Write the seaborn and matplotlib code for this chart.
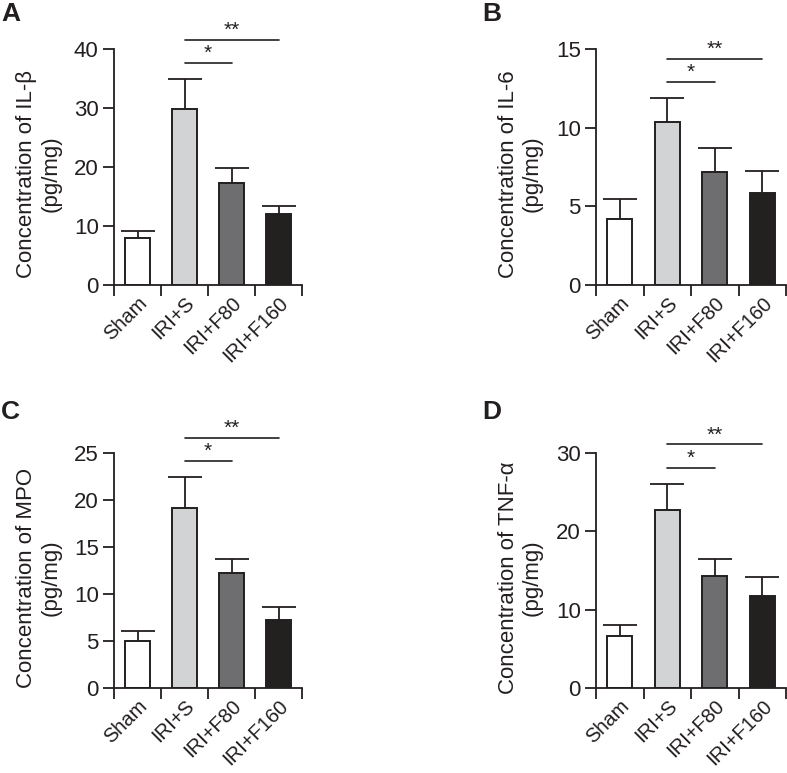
import matplotlib
matplotlib.use("Agg")
import matplotlib.pyplot as plt
import numpy as np
import pandas as pd
import seaborn as sns

# groups shared by all four panels
groups = ["Sham", "IRI+S", "IRI+F80", "IRI+F160"]
bar_colors = ["#ffffff", "#d1d3d4", "#6d6e71", "#231f20"]

# values (mean and upper error bar length)
il1b_mean = [8.0, 29.9, 17.3, 12.0]
il1b_err = [1.2, 5.0, 2.5, 1.4]
il6_mean = [4.22, 10.36, 7.2, 5.83]
il6_err = [1.27, 1.5, 1.49, 1.39]
mpo_mean = [5.0, 19.19, 12.25, 7.22]
mpo_err = [1.02, 3.24, 1.45, 1.44]
tnfa_mean = [6.63, 22.77, 14.24, 11.7]
tnfa_err = [1.35, 3.3, 2.24, 2.45]

# significance bars: (start group, end group, y value, label)
il1b_sig = [(1, 2, 37.7, "*"), (1, 3, 41.6, "**")]
il6_sig = [(1, 2, 12.92, "*"), (1, 3, 14.39, "**")]
mpo_sig = [(1, 2, 24.2, "*"), (1, 3, 26.6, "**")]
tnfa_sig = [(1, 2, 28.05, "*"), (1, 3, 31.1, "**")]

il1b_ticks = [0, 10, 20, 30, 40]
il6_ticks = [0, 5, 10, 15]
mpo_ticks = [0, 5, 10, 15, 20, 25]
tnfa_ticks = [0, 10, 20, 30]

sns.set_style("ticks")
plt.rcParams["font.family"] = ["Liberation Sans", "DejaVu Sans"]

W, H = 787, 773
fig = plt.figure(figsize=(W / 100, H / 100), dpi=100)


def bar_panel(rect, mean, err, sig, yticks, ylabel, letter, letter_xy):
    ax = fig.add_axes(rect)
    df = pd.DataFrame({"group": groups, "value": mean})
    sns.barplot(data=df, x="group", y="value", hue="group", palette=bar_colors,
                legend=False, width=0.52, edgecolor="#231f20", linewidth=1.4,
                errorbar=None, ax=ax)
    x = np.arange(len(groups))
    eb = ax.errorbar(x, mean, yerr=[np.zeros(len(err)), err], fmt="none",
                     ecolor="#231f20", elinewidth=1.3, capsize=12, capthick=1.3,
                     zorder=1)
    # keep only the upper cap
    eb[1][0].remove()

    ax.set_xlim(-0.5, len(groups) - 0.5)
    ax.set_ylim(0, yticks[-1])
    ax.set_yticks(yticks)
    ax.set_xticks(x)
    ax.set_xticklabels(groups, rotation=45, ha="right", rotation_mode="anchor")
    ax.set_xticks(np.arange(-0.5, len(groups)), minor=True)
    ax.tick_params(axis="x", which="major", length=0, pad=6, labelsize=14.5,
                   labelcolor="#231f20")
    ax.tick_params(axis="x", which="minor", length=8, width=1.3, direction="out",
                   color="#231f20")
    ax.tick_params(axis="y", length=8, width=1.3, labelsize=16, pad=3,
                   color="#231f20", labelcolor="#231f20")
    ax.set_xlabel("")
    ax.set_ylabel(ylabel, fontsize=16, linespacing=1.2, color="#231f20")
    ax.yaxis.set_label_coords(-0.28, 0.47)
    for s in ["left", "bottom"]:
        ax.spines[s].set_linewidth(1.3)
        ax.spines[s].set_color("#231f20")
    sns.despine(ax=ax)

    for x0, x1, yv, lab in sig:
        ax.plot([x0, x1], [yv, yv], color="#231f20", lw=1.2, clip_on=False)
        ax.text((x0 + x1) / 2, yv, lab, ha="center", va="bottom", fontsize=15,
                color="#231f20", clip_on=False)

    fig.text(letter_xy[0], letter_xy[1], letter, fontsize=19, fontweight="bold",
             ha="left", va="top", color="#231f20")
    return ax


def rect(left, right, top, bottom):
    return [left / W, 1 - bottom / H, (right - left) / W, (bottom - top) / H]


bar_panel(rect(114, 302, 49, 285), il1b_mean, il1b_err, il1b_sig, il1b_ticks,
          "Concentration of IL-β\n(pg/mg)", "A", (1 / W, 1 - 2 / H))
bar_panel(rect(596, 786, 49, 285), il6_mean, il6_err, il6_sig, il6_ticks,
          "Concentration of IL-6\n(pg/mg)", "B", (482 / W, 1 - 2 / H))
bar_panel(rect(114, 302, 453, 688), mpo_mean, mpo_err, mpo_sig, mpo_ticks,
          "Concentration of MPO\n(pg/mg)", "C", (1 / W, 1 - 400 / H))
bar_panel(rect(596, 786, 453, 688), tnfa_mean, tnfa_err, tnfa_sig, tnfa_ticks,
          "Concentration of TNF-α\n(pg/mg)", "D", (482 / W, 1 - 400 / H))

fig.savefig("out.png", dpi=100, facecolor="white")
